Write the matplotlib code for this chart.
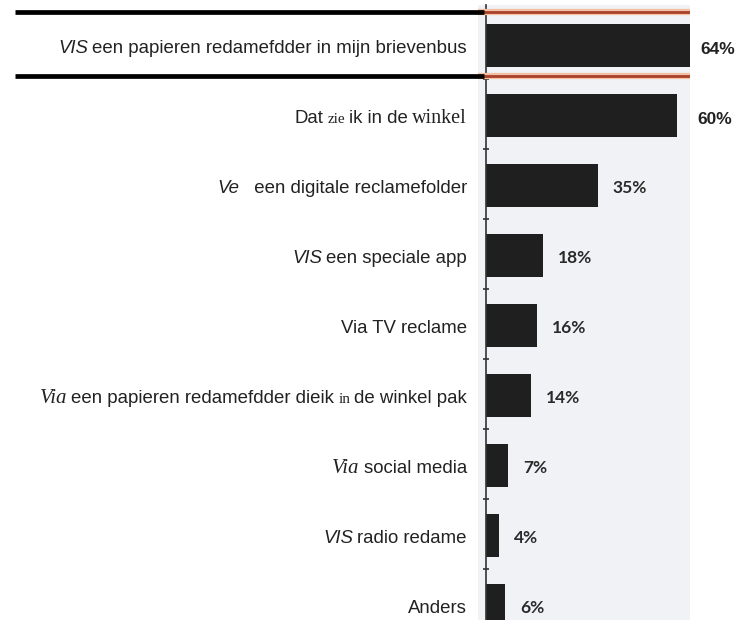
#!/usr/bin/env python3
# Horizontal bar chart: hoe ziet u aanbiedingen (scanned look, mixed fonts in labels)
import matplotlib
matplotlib.use("Agg")
import matplotlib.pyplot as plt

# label pieces: (text, style)  -- the scanned labels mix fonts
LABELS = [
    [("VIS", "sansi"), ("een papieren redamefdder in mijn brievenbus", "sans")],
    [("Dat", "sans"), ("zie", "serifs"), ("ik in de", "sans"), ("winkel", "serif")],
    [("Ve", "sansi"), ("  een digitale reclamefolder", "sans")],
    [("VIS", "sansi"), ("een speciale app", "sans")],
    [("Via TV reclame", "sans")],
    [("Via", "serifi"), ("een papieren redamefdder dieik", "sans"), ("in", "serifs"),
     ("de winkel pak", "sans")],
    [("Via", "serifi"), ("social media", "sans")],
    [("VIS", "sansi"), ("radio redame", "sans")],
    [("Anders", "sans")],
]
VALUES = [64, 60, 35, 18, 16, 14, 7, 4, 6]
VALUE_TEXT = ["64%", "60%", "35%", "18%", "16%", "14%", "7%", "4%", "6%"]

STYLES = {
    "sans":   dict(family="Liberation Sans", fontsize=13.4),
    "sansi":  dict(family="Liberation Sans", fontsize=13.4, style="italic"),
    "serif":  dict(family="Liberation Serif", fontsize=14.5),
    "serifi": dict(family="Liberation Serif", fontsize=15, style="italic"),
    "serifs": dict(family="Liberation Serif", fontsize=11),
}

fig = plt.figure(figsize=(7.47, 6.2), dpi=100)
ax = fig.add_axes([478 / 747, 0, 212 / 747, 615 / 620])
ax.set_facecolor("#f0f2f5")

ys = list(range(len(VALUES)))
ax.barh(ys, VALUES, height=0.62, color="#1f1f1f", zorder=2)
ax.set_xlim(-2.5, 64)
ax.set_ylim(8.207, -0.579)

for s in ["top", "right", "bottom"]:
    ax.spines[s].set_visible(False)
ax.spines["left"].set_position(("data", 0))
ax.spines["left"].set_color("#333333")
ax.spines["left"].set_linewidth(1.2)
ax.set_xticks([])
ax.set_yticks([i + 0.48 for i in range(len(VALUES) - 1)])
ax.set_yticklabels([])
ax.tick_params(axis="y", length=4, direction="inout", color="#333333", width=1.2)

# highlighted first row: red lines in plot, thick black lines beside
for yb in (-0.479, 0.436):
    ax.axhline(yb, color="#f2c0a4", lw=4.5, zorder=3)
    ax.axhline(yb, color="#a8402a", lw=2.0, zorder=4)
    ax.plot([-2.184, 0.03], [yb, yb], transform=ax.get_yaxis_transform(),
            color="black", lw=3.4, clip_on=False, solid_capstyle="butt", zorder=5)

# category labels built piece by piece from the right
fig.canvas.draw()
renderer = fig.canvas.get_renderer()
for i, pieces in enumerate(LABELS):
    off = -19
    for txt, st in reversed(pieces):
        t = ax.annotate(txt, xy=(0, i), xycoords=("data", "data"),
                        xytext=(off, -7), textcoords="offset pixels",
                        ha="right", va="baseline", color="#222222",
                        annotation_clip=False, **STYLES[st])
        off -= t.get_window_extent(renderer).width + 4

# value labels
for i, (v, lab) in enumerate(zip(VALUES, VALUE_TEXT)):
    if i < 2:
        ax.annotate(lab, xy=(v, i), xytext=(10 if i == 0 else 20, -4),
                    textcoords="offset pixels", ha="left", va="center",
                    fontsize=12.5, fontweight="bold", family="Liberation Sans",
                    color="#222222", annotation_clip=False)
    else:
        ax.annotate(lab, xy=(v, i), xytext=(15, -2), textcoords="offset pixels",
                    ha="left", va="center", fontsize=12.5, fontweight="bold",
                    family="Lato", color="#2a2a2a", annotation_clip=False)

fig.savefig("out.png", dpi=100)
